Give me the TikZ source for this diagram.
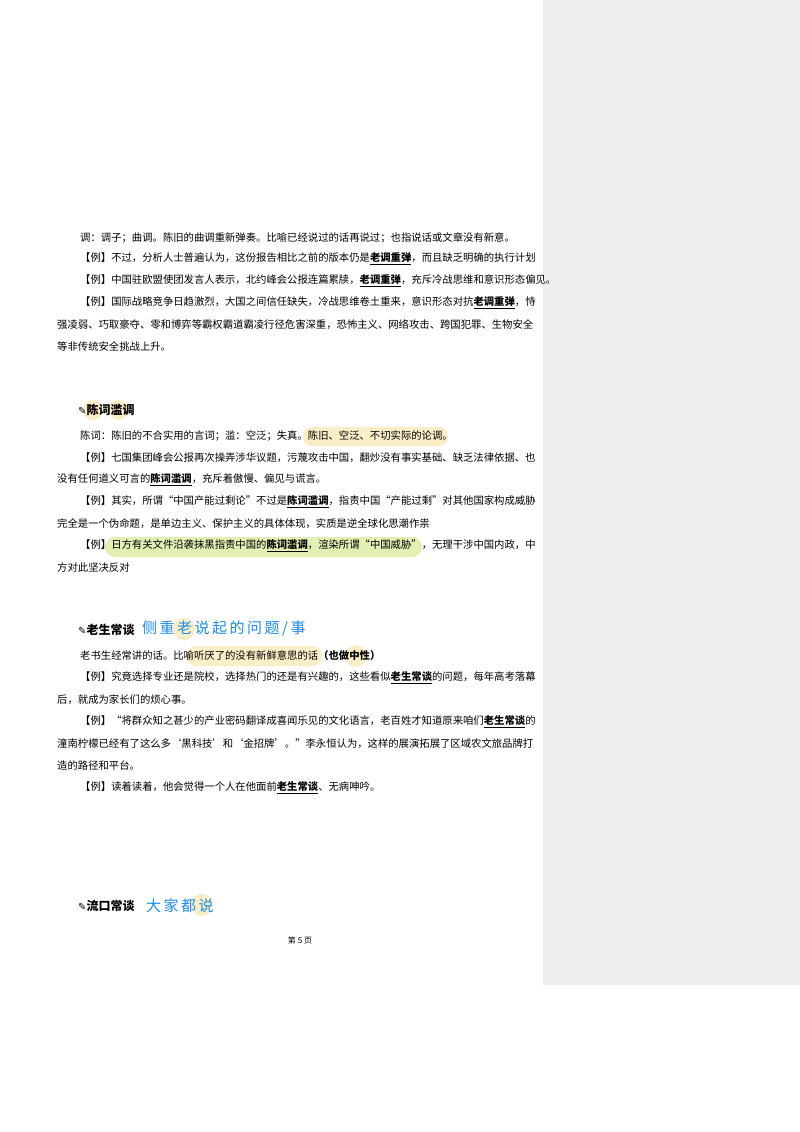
\documentclass[tikz,border=0pt]{standalone}
\usepackage{fontspec}
\setmainfont{Noto Sans CJK SC}
\newfontfamily\cjk{Noto Sans CJK SC}
\newfontfamily\sym{DejaVu Sans}
\definecolor{panel}{RGB}{238,238,238}
\definecolor{hly}{RGB}{250,238,200}
\definecolor{hlg}{RGB}{226,240,180}
\definecolor{hand}{RGB}{30,140,230}
\newcommand{\kw}[1]{\underline{\textbf{#1}}}
\tikzset{ln/.style={anchor=west,inner sep=0pt,font=\fontsize{10.35}{12}\selectfont},
hd/.style={anchor=west,inner sep=0pt,font=\fontsize{12}{14}\selectfont\bfseries},
hw/.style={anchor=west,inner sep=0pt,text=hand,font=\fontsize{15}{17}\selectfont}}
\begin{document}
\begin{tikzpicture}[x=1pt,y=-1pt]
\useasboundingbox (0,0) rectangle (800,1132);
\fill[white] (0,0) rectangle (800,1132);
\fill[panel] (543,0) rectangle (800,985);
% highlights
\fill[hly] (93,410) circle (10);
\fill[hly] (118,410) circle (10);
\fill[hly,rounded corners=9] (303,427) rectangle (448,446);
\fill[hlg,rounded corners=10] (105,537) rectangle (422,557);
\fill[hly] (184,629) circle (11);
\fill[hly,rounded corners=10] (186,646) rectangle (322,666);
\fill[hly] (356,656) circle (11);
\fill[hly] (202,905) circle (11);
% section 1
\node[ln] (a1) at (80,238) {调：调子；曲调。陈旧的曲调重新弹奏。比喻已经说过的话再说过；也指说话或文章没有新意。};
\node[ln] (a2) at (80,259) {【例】不过，分析人士普遍认为，这份报告相比之前的版本仍是\kw{老调重弹}，而且缺乏明确的执行计划};
\node[ln] (a3) at (80,281) {【例】中国驻欧盟使团发言人表示，北约峰会公报连篇累牍，\kw{老调重弹}，充斥冷战思维和意识形态偏见。};
\node[ln] (a4) at (80,303) {【例】国际战略竞争日趋激烈，大国之间信任缺失，冷战思维卷土重来，意识形态对抗\kw{老调重弹}，恃};
\node[ln] (a5) at (57,325) {强凌弱、巧取豪夺、零和博弈等霸权霸道霸凌行径危害深重，恐怖主义、网络攻击、跨国犯罪、生物安全};
\node[ln] (a6) at (57,347) {等非传统安全挑战上升。};
% section 2
\node[hd] (h2) at (78,410) {{\sym\fontsize{10}{12}\selectfont ✎}陈词滥调};
\node[ln] (b1) at (80,436) {陈词：陈旧的不合实用的言词；滥：空泛；失真。陈旧、空泛、不切实际的论调。};
\node[ln] (b2) at (80,458) {【例】七国集团峰会公报再次操弄涉华议题，污蔑攻击中国，翻炒没有事实基础、缺乏法律依据、也};
\node[ln] (b3) at (57,480) {没有任何道义可言的\kw{陈词滥调}，充斥着傲慢、偏见与谎言。};
\node[ln] (b4) at (80,502) {【例】其实，所谓“中国产能过剩论”不过是\kw{陈词滥调}，指责中国“产能过剩”对其他国家构成威胁};
\node[ln] (b5) at (57,524) {完全是一个伪命题，是单边主义、保护主义的具体体现，实质是逆全球化思潮作祟};
\node[ln] (b6) at (80,546) {【例】日方有关文件沿袭抹黑指责中国的\kw{陈词滥调}，渲染所谓“中国威胁”，无理干涉中国内政，中};
\node[ln] (b7) at (57,568) {方对此坚决反对};
% section 3
\node[hd] (h3) at (78,630) {{\sym\fontsize{10}{12}\selectfont ✎}老生常谈};
\node[hw] (w3) at (142,629) {侧\,重\,老\,说\,起\,的\,问\,题\,/\,事};
\node[ln] (c1) at (80,656) {老书生经常讲的话。比喻听厌了的没有新鲜意思的话\textbf{（也做中性）}};
\node[ln] (c2) at (80,678) {【例】究竟选择专业还是院校，选择热门的还是有兴趣的，这些看似\kw{老生常谈}的问题，每年高考落幕};
\node[ln] (c3) at (57,700) {后，就成为家长们的烦心事。};
\node[ln] (c4) at (80,722) {【例】“将群众知之甚少的产业密码翻译成喜闻乐见的文化语言，老百姓才知道原来咱们\kw{老生常谈}的};
\node[ln] (c5) at (57,744) {潼南柠檬已经有了这么多‘黑科技’和‘金招牌’。”李永恒认为，这样的展演拓展了区域农文旅品牌打};
\node[ln] (c6) at (57,766) {造的路径和平台。};
\node[ln] (c7) at (80,788) {【例】读着读着，他会觉得一个人在他面前\kw{老生常谈}、无病呻吟。};
% section 4
\node[hd] (h4) at (78,906) {{\sym\fontsize{10}{12}\selectfont ✎}流口常谈};
\node[hw] (w4) at (146,906) {大\,家\,都\,说};
\node[anchor=center,inner sep=0pt,font=\fontsize{8}{10}\selectfont] (pg) at (300,940) {第 5 页};
\end{tikzpicture}
\end{document}
